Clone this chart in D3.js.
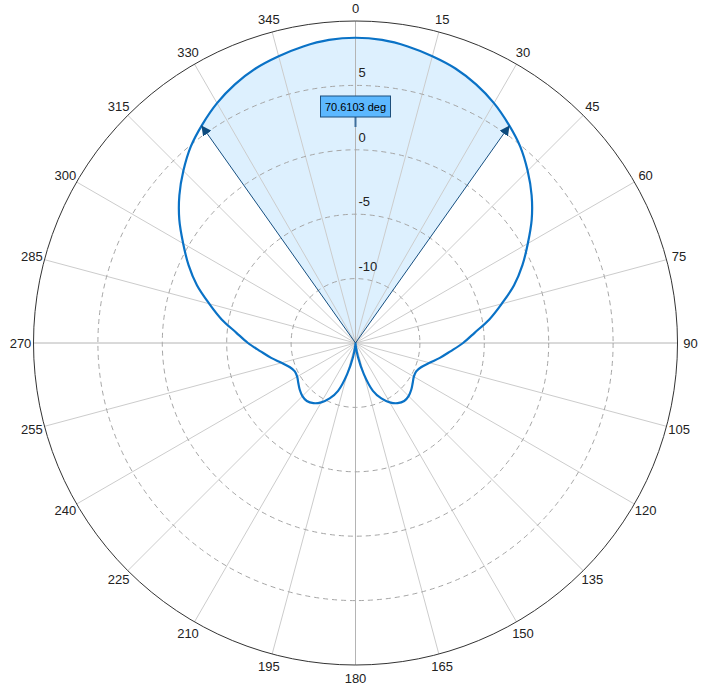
<!DOCTYPE html>
<html>
<head>
<meta charset="utf-8">
<script src="https://cdn.jsdelivr.net/npm/d3@7.9.0/dist/d3.min.js"></script>
<style>
  html, body { margin: 0; padding: 0; background: #fff; }
  svg { display: block; }
</style>
</head>
<body>
<svg id="polar" width="705" height="689"></svg>
<script>
// pattern angles in degrees (clockwise from top) and gain in dB
const angles = d3.range(0, 360, 5);
const gains = [
  8.70, 8.62, 8.38, 8.05, 7.68, 7.15, 6.50, 5.72, 4.90, 3.90, 2.85, 1.70,
  0.45, -0.70, -1.90, -3.25, -4.45, -5.70, -6.65, -7.60, -8.35, -9.05, -9.55, -9.80,
  -9.77, -9.58, -9.35, -9.17, -9.12, -9.30, -9.68, -10.25, -11.05, -12.50, -13.90, -14.80,
  -15.00, -14.80, -13.90, -12.50, -11.05, -10.25, -9.68, -9.30, -9.12, -9.17, -9.35, -9.58,
  -9.77, -9.80, -9.55, -9.05, -8.35, -7.60, -6.65, -5.70, -4.45, -3.25, -1.90, -0.70,
  0.45, 1.70, 2.85, 3.90, 4.90, 5.72, 6.50, 7.15, 7.68, 8.05, 8.38, 8.62
];
const angleTicks = d3.range(0, 360, 15);
const ringTicks = [-10, -5, 0, 5];
const radialDomain = [-15, 10];
const beamwidth = 70.6103;   // -3 dB beamwidth, degrees
const beamDrop = 3;          // dB below peak

const svg = d3.select("#polar");
const cx = 355.5, cy = 343, R = 322;
const rad = Math.PI / 180;

const r = d3.scaleLinear().domain(radialDomain).range([0, R]).clamp(true);

const g = svg.append("g").attr("transform", `translate(${cx},${cy})`);

const data = angles.map((a, i) => ({ angle: a, gain: gains[i] }));

const line = d3.lineRadial()
  .angle(d => d.angle * rad)
  .radius(d => r(d.gain))
  .curve(d3.curveCatmullRomClosed.alpha(0.5));

// beam wedge, used to clip the shaded area
const half = beamwidth / 2;
g.append("clipPath")
  .attr("id", "beam-clip")
  .append("path")
  .attr("d", d3.arc()({ innerRadius: 0, outerRadius: R, startAngle: -half * rad, endAngle: half * rad }));

g.append("path")
  .datum(data)
  .attr("d", line)
  .attr("fill", "#ddf0fe")
  .attr("stroke", "none")
  .attr("clip-path", "url(#beam-clip)");

// spokes
g.selectAll(".spoke")
  .data(angleTicks)
  .enter()
  .append("line")
  .attr("class", "spoke")
  .attr("x1", 0).attr("y1", 0)
  .attr("x2", d => R * Math.sin(d * rad))
  .attr("y2", d => -R * Math.cos(d * rad))
  .attr("stroke", d => d % 90 === 0 ? "#b4b4b4" : "#cccccc")
  .attr("stroke-width", 1);

// dashed rings
g.selectAll(".ring")
  .data(ringTicks)
  .enter()
  .append("circle")
  .attr("class", "ring")
  .attr("r", d => r(d))
  .attr("fill", "none")
  .attr("stroke", "#a6a6a6")
  .attr("stroke-width", 1)
  .attr("stroke-dasharray", "5 4");

// outer ring
g.append("circle")
  .attr("r", R)
  .attr("fill", "none")
  .attr("stroke", "#333")
  .attr("stroke-width", 1);

// ring labels
g.selectAll(".ring-label")
  .data(ringTicks)
  .enter()
  .append("text")
  .attr("class", "ring-label")
  .attr("x", 3)
  .attr("y", d => -r(d) - 8)
  .attr("font-family", "Liberation Sans, Arial, sans-serif")
  .attr("font-size", "13px")
  .attr("fill", "#222")
  .text(d => d);

// angle labels
g.selectAll(".angle-label")
  .data(angleTicks)
  .enter()
  .append("text")
  .attr("class", "angle-label")
  .attr("x", d => (R + 13) * Math.sin(d * rad))
  .attr("y", d => -(R + 13) * Math.cos(d * rad))
  .attr("text-anchor", "middle")
  .attr("dominant-baseline", "central")
  .attr("font-family", "Liberation Sans, Arial, sans-serif")
  .attr("font-size", "13px")
  .attr("fill", "#222")
  .text(d => d);

// pattern curve
g.append("path")
  .datum(data)
  .attr("d", line)
  .attr("fill", "none")
  .attr("stroke", "#0a72c6")
  .attr("stroke-width", 2.2);

// beamwidth edge lines with arrows
svg.append("defs").append("marker")
  .attr("id", "arrow")
  .attr("viewBox", "0 0 10 10")
  .attr("refX", 10).attr("refY", 5)
  .attr("markerWidth", 10).attr("markerHeight", 10)
  .attr("markerUnits", "userSpaceOnUse")
  .attr("orient", "auto")
  .append("path")
  .attr("d", "M0,0 L10,5 L0,10 Z")
  .attr("fill", "#0e4b7e");

const peak = d3.max(gains);
const tipR = r(peak - beamDrop);
[-half, half].forEach(a => {
  g.append("line")
    .attr("x1", 0).attr("y1", 0)
    .attr("x2", tipR * Math.sin(a * rad))
    .attr("y2", -tipR * Math.cos(a * rad))
    .attr("stroke", "#164f80")
    .attr("stroke-width", 1)
    .attr("marker-end", "url(#arrow)");
});

// beamwidth label
const labelR = 216;
const lab = g.append("g").attr("transform", `translate(0,${-labelR})`);
lab.append("line")
  .attr("x1", 0).attr("x2", 0)
  .attr("y1", 0).attr("y2", -10)
  .attr("stroke", "#3d6e9c")
  .attr("stroke-width", 2);
lab.append("rect")
  .attr("x", -35).attr("y", -31)
  .attr("width", 70).attr("height", 21)
  .attr("fill", "#5cb8ff")
  .attr("stroke", "#1d4f7c")
  .attr("stroke-width", 1);
lab.append("text")
  .attr("x", 0).attr("y", -20.5)
  .attr("text-anchor", "middle")
  .attr("dominant-baseline", "central")
  .attr("font-family", "Liberation Sans, Arial, sans-serif")
  .attr("font-size", "11px")
  .attr("fill", "#000")
  .text(`${beamwidth} deg`);
</script>
</body>
</html>
